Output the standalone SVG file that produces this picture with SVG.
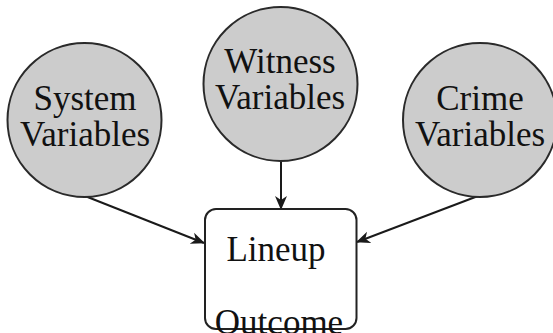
<svg xmlns="http://www.w3.org/2000/svg" width="553" height="333" viewBox="0 0 553 333">
  <style>
    .var { fill: #cccccc; stroke: #2a2a2a; stroke-width: 2; }
    .outcome { fill: #ffffff; stroke: #222222; stroke-width: 2; }
    .label { font-family: "Liberation Serif", "Times New Roman", serif; font-size: 35px; fill: #111111; text-anchor: middle; }
    .edge { fill: none; stroke: #1a1a1a; stroke-width: 2; marker-end: url(#head); }
  </style>
  <defs>
    <marker id="head" viewBox="0 0 14 14" refX="13" refY="7" markerWidth="14" markerHeight="14" markerUnits="userSpaceOnUse" orient="auto">
      <path d="M0,1 L14,7 L0,13 L4,7 Z" fill="#1a1a1a"/>
    </marker>
  </defs>
  <rect width="553" height="333" fill="#ffffff"/>

  <g id="connectors">
    <line class="edge" x1="85" y1="196" x2="204" y2="243"/>
    <line class="edge" x1="281" y1="161" x2="281" y2="209"/>
    <line class="edge" x1="478" y1="196" x2="357" y2="242"/>
  </g>

  <g id="system-variables">
    <circle class="var" cx="84.5" cy="120" r="77"/>
    <text class="label" x="85" y="110">System</text>
    <text class="label" x="85" y="146">Variables</text>
  </g>

  <g id="witness-variables">
    <circle class="var" cx="280.5" cy="84" r="77"/>
    <text class="label" x="280" y="73">Witness</text>
    <text class="label" x="280" y="109">Variables</text>
  </g>

  <g id="crime-variables">
    <circle class="var" cx="480" cy="120" r="77"/>
    <text class="label" x="480" y="110">Crime</text>
    <text class="label" x="480" y="146">Variables</text>
  </g>

  <g id="lineup-outcome">
    <rect class="outcome" x="205" y="209" width="151.5" height="120" rx="11" ry="11"/>
    <text class="label" x="276" y="261">Lineup</text>
    <text class="label" x="279" y="334">Outcome</text>
  </g>
</svg>
